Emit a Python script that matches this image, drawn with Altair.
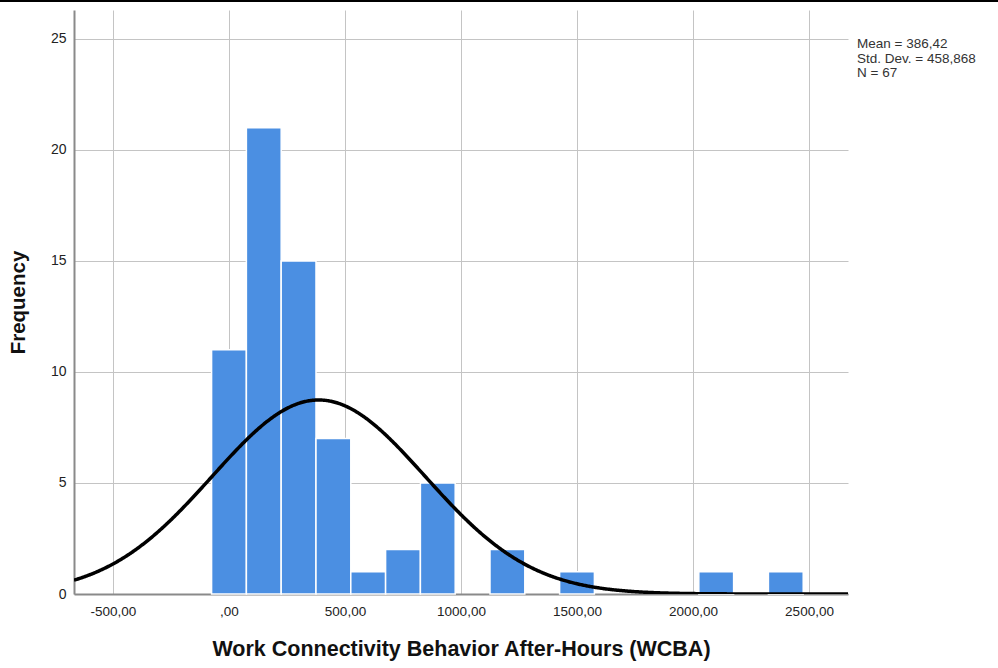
import altair as alt
import pandas as pd

# Histogram bins (centre of each 150-wide bin) and their frequencies
bin_centers = [0, 150, 300, 450, 600, 750, 900, 1050, 1200, 1350, 1500, 1650, 1800, 1950, 2100, 2250, 2400]
counts = [11, 21, 15, 7, 1, 2, 5, 0, 2, 0, 1, 0, 0, 0, 1, 0, 1]
bin_width = 150

# Summary statistics shown beside the plot
mean_val = 386.42
sd_val = 458.868
n_val = 67
stats_lines = ["Mean = 386,42", "Std. Dev. = 458,868", "N = 67"]

x_ticks = [-500, 0, 500, 1000, 1500, 2000, 2500]
y_ticks = [0, 5, 10, 15, 20, 25]
x_domain = [-668, 2668]
y_domain = [0, 26.3]

FONT = "Liberation Sans"
W, H = 774, 584

hist_df = pd.DataFrame({"center": bin_centers, "count": counts})
hist_df = hist_df[hist_df["count"] > 0]

xscale = alt.Scale(domain=x_domain, nice=False, zero=False)
yscale = alt.Scale(domain=y_domain, nice=False)

x_axis = alt.Axis(
    values=x_ticks,
    labelExpr="datum.value == 0 ? ',00' : datum.value + ',00'",
    title="Work Connectivity Behavior After-Hours (WCBA)",
    titleFont=FONT, titleFontSize=21.5, titleFontWeight="bold", titleColor="#111",
    titlePadding=21,
    labelFont=FONT, labelFontSize=13.5, labelColor="#222", labelPadding=10,
    ticks=False, grid=True, gridColor="#c4c4c4", gridWidth=1,
    domainColor="#8a8a8a", domainWidth=2, labelFlush=False,
)
y_axis = alt.Axis(
    values=y_ticks,
    title="Frequency",
    titleFont=FONT, titleFontSize=20.5, titleFontWeight="bold", titleColor="#111",
    titlePadding=22,
    labelFont=FONT, labelFontSize=14, labelColor="#222", labelPadding=8,
    ticks=False, grid=True, gridColor="#c4c4c4", gridWidth=1,
    domainColor="#8a8a8a", domainWidth=2,
)

bars = alt.Chart(hist_df).transform_calculate(
    x0=f"datum.center - {bin_width} / 2",
    x1=f"datum.center + {bin_width} / 2",
).mark_rect(color="#4b8fe2", stroke="white", strokeWidth=1.5).encode(
    x=alt.X("x0:Q", scale=xscale, axis=x_axis),
    x2="x1:Q",
    y=alt.Y("count:Q", scale=yscale, axis=y_axis),
    y2=alt.datum(0),
)

# Fitted normal curve scaled to frequencies
curve = alt.Chart(alt.sequence(x_domain[0], x_domain[1] + 1, 4, as_="v")).transform_calculate(
    f=f"densityNormal(datum.v, {mean_val}, {sd_val}) * {n_val} * {bin_width}"
).mark_line(color="black", strokeWidth=3.5, clip=True).encode(
    x=alt.X("v:Q", scale=xscale),
    y=alt.Y("f:Q", scale=yscale),
)

stats = alt.Chart(pd.DataFrame({"line": ["\n".join(stats_lines)]})).mark_text(
    align="left", baseline="top", font=FONT, fontSize=13.5, color="#333",
    lineBreak="\n", lineHeight=14.5,
).encode(
    x=alt.value(W + 9),
    y=alt.value(27),
    text="line:N",
)

top_border = alt.Chart(pd.DataFrame({"a": [0]})).mark_rule(color="black", strokeWidth=2).encode(
    x=alt.value(-74), x2=alt.value(924), y=alt.value(-9)
)

chart = alt.layer(bars, curve, stats, top_border).properties(
    width=W, height=H,
    autosize=alt.AutoSizeParams(type="none"),
    padding={"left": 74, "top": 10, "right": 150, "bottom": 74},
    background="white",
).configure_view(stroke=None)

chart.save("out.html", embed_options={"renderer": "svg", "actions": False})
